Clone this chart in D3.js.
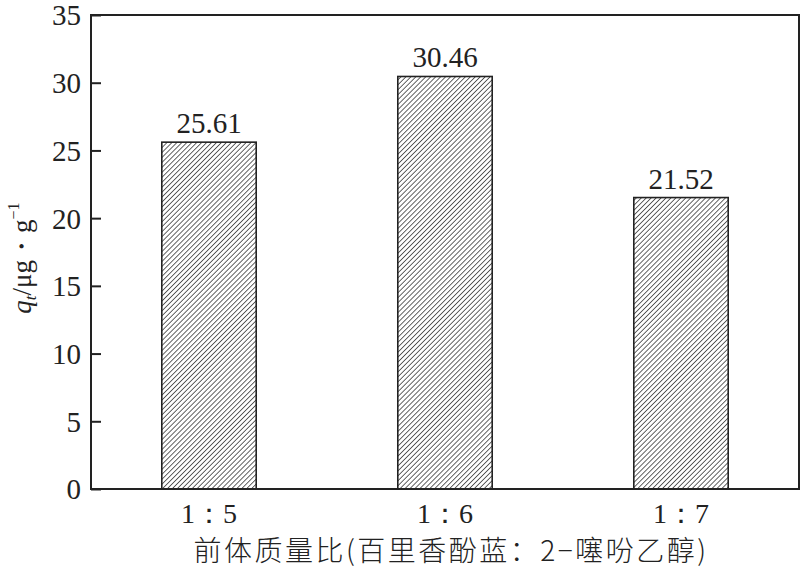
<!DOCTYPE html>
<html>
<head>
<meta charset="utf-8">
<script src="https://cdn.jsdelivr.net/npm/d3@7"></script>
<style>
  body { margin: 0; background: #fff; }
  svg { display: block; }
  .serif { font-family: "Liberation Serif", "Times New Roman", "DejaVu Serif", serif; }
</style>
</head>
<body>
<script>
const categories = ["1：5", "1：6", "1：7"];
const values = [25.61, 30.46, 21.52];
const yTicks = [0, 5, 10, 15, 20, 25, 30, 35];

const margin = { top: 15, right: 2, bottom: 79, left: 91 },
  width = 801 - margin.left - margin.right,
  height = 568 - margin.top - margin.bottom;

const svg = d3.select("body").append("svg")
  .attr("width", 801)
  .attr("height", 568);

// diagonal hatch like the printed figure
const hs = 3.5;
const pat = svg.append("defs").append("pattern")
  .attr("id", "hatch")
  .attr("patternUnits", "userSpaceOnUse")
  .attr("width", hs)
  .attr("height", hs)
  .attr("patternTransform", "rotate(45)");
pat.append("rect").attr("width", hs).attr("height", hs).attr("fill", "#fff");
pat.append("line")
  .attr("x1", 0).attr("y1", 0).attr("x2", 0).attr("y2", hs)
  .attr("stroke", "#111").attr("stroke-width", 1.3);

const g = svg.append("g")
  .attr("transform", `translate(${margin.left},${margin.top})`);

const x = d3.scaleBand()
  .domain(categories)
  .range([0, width])
  .padding(0);

const y = d3.scaleLinear()
  .domain([0, 35])
  .range([height, 0]);

const barW = x.bandwidth() * 0.4;

// bars
g.selectAll("rect.bar")
  .data(values)
  .join("rect")
  .attr("class", "bar")
  .attr("x", (d, i) => x(categories[i]) + x.bandwidth() / 2 - barW / 2)
  .attr("y", d => y(d))
  .attr("width", barW)
  .attr("height", d => y(0) - y(d))
  .attr("fill", "url(#hatch)")
  .attr("stroke", "#222")
  .attr("stroke-width", 1.6);

// value labels
g.selectAll("text.val")
  .data(values)
  .join("text")
  .attr("class", "val serif")
  .attr("x", (d, i) => x(categories[i]) + x.bandwidth() / 2)
  .attr("y", d => y(d) - 9)
  .attr("text-anchor", "middle")
  .attr("font-size", 29)
  .attr("fill", "#222")
  .text(d => d.toFixed(2));

// y axis, ticks pointing inward
const yAxis = g.append("g")
  .call(d3.axisLeft(y).tickValues(yTicks).tickSize(-10).tickPadding(10).tickSizeOuter(0));
yAxis.attr("font-family", null).attr("font-size", null);
yAxis.select(".domain").remove();
yAxis.selectAll("line").attr("stroke", "#222").attr("stroke-width", 2);
yAxis.selectAll("text")
  .attr("class", "serif")
  .attr("font-size", 29)
  .attr("dy", "0.34em")
  .attr("fill", "#222");

// frame
g.append("rect")
  .attr("x", 0).attr("y", 0)
  .attr("width", width).attr("height", height)
  .attr("fill", "none")
  .attr("stroke", "#222")
  .attr("stroke-width", 2);

// x labels
g.append("g")
  .selectAll("text")
  .data(categories)
  .join("text")
  .attr("class", "serif")
  .attr("x", d => x(d) + x.bandwidth() / 2)
  .attr("y", height + 34)
  .attr("text-anchor", "middle")
  .attr("font-size", 28)
  .attr("fill", "#222")
  .text(d => d);

// x title
svg.append("text")
  .attr("x", 451)
  .attr("y", 561)
  .attr("text-anchor", "middle")
  .style("font-family", "'Noto Sans CJK SC', sans-serif")
  .style("letter-spacing", "2.5px")
  .attr("font-size", 28)
  .attr("font-weight", 300)
  .attr("fill", "#222")
  .text("前体质量比(百里香酚蓝：2−噻吩乙醇)");

// y title
const yt = svg.append("text")
  .attr("class", "serif")
  .attr("transform", "translate(31,258) rotate(-90)")
  .attr("text-anchor", "middle")
  .attr("font-size", 27)
  .attr("fill", "#222");
yt.append("tspan").style("font-style", "italic").text("q");
yt.append("tspan").style("font-style", "italic").attr("font-size", 17).attr("dy", 5).text("t");
yt.append("tspan").attr("dy", -5).text("/μg・g");
yt.append("tspan").attr("font-size", 16).attr("dy", -12).text("−1");
</script>
</body>
</html>
